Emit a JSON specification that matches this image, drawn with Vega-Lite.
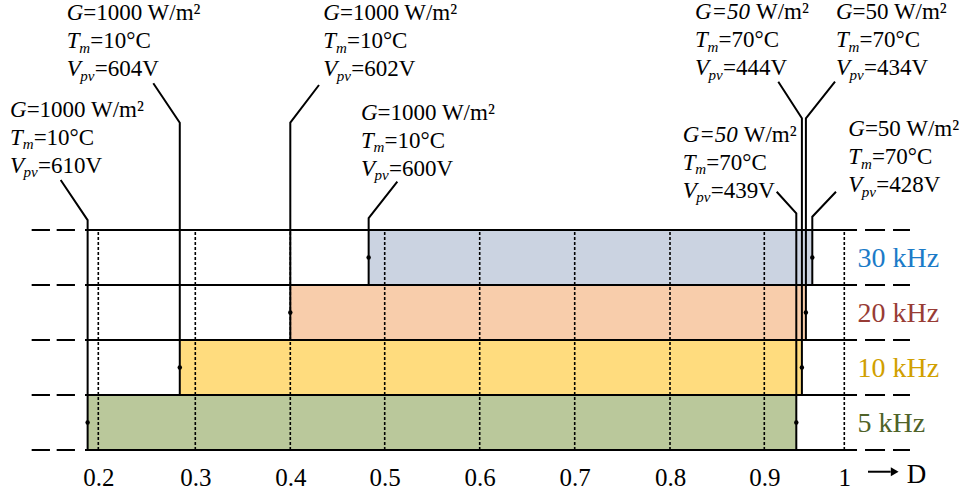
{
  "$schema": "https://vega.github.io/schema/vega-lite/v6.json",
  "width": 962,
  "height": 450,
  "autosize": {"type": "none"},
  "padding": {"left": 0, "top": 0, "right": 0, "bottom": 44},
  "background": "white",
  "config": {"view": {"stroke": null}, "font": "Liberation Serif"},
  "datasets": {
    "bands": [
      {"f": "5 kHz", "x0": 0.189, "x1": 0.940, "lo": 0, "hi": 1},
      {"f": "10 kHz", "x0": 0.284, "x1": 0.947, "lo": 1, "hi": 2},
      {"f": "20 kHz", "x0": 0.400, "x1": 0.952, "lo": 2, "hi": 3},
      {"f": "30 kHz", "x0": 0.483, "x1": 0.960, "lo": 3, "hi": 4}
    ],
    "grid": [{"D": 0.2}, {"D": 0.3}, {"D": 0.4}, {"D": 0.5}, {"D": 0.6}, {"D": 0.7}, {"D": 0.8}, {"D": 0.9}, {"D": 1.0}],
    "hlines": [{"lv": 0}, {"lv": 1}, {"lv": 2}, {"lv": 3}, {"lv": 4}],
    "leaders": [
      {"id": "L5", "o": 0, "D": 0.189, "lv": 0}, {"id": "L5", "o": 1, "D": 0.189, "lv": 4.18}, {"id": "L5", "o": 2, "D": 0.1612, "lv": 4.909},
      {"id": "L10", "o": 0, "D": 0.284, "lv": 1}, {"id": "L10", "o": 1, "D": 0.284, "lv": 5.951}, {"id": "L10", "o": 2, "D": 0.2567, "lv": 6.667},
      {"id": "L20", "o": 0, "D": 0.400, "lv": 2}, {"id": "L20", "o": 1, "D": 0.400, "lv": 5.951}, {"id": "L20", "o": 2, "D": 0.4304, "lv": 6.636},
      {"id": "L30", "o": 0, "D": 0.483, "lv": 3}, {"id": "L30", "o": 1, "D": 0.483, "lv": 4.218}, {"id": "L30", "o": 2, "D": 0.5133, "lv": 4.878},
      {"id": "R5", "o": 0, "D": 0.940, "lv": 0}, {"id": "R5", "o": 1, "D": 0.940, "lv": 4.303}, {"id": "R5", "o": 2, "D": 0.9155, "lv": 4.696},
      {"id": "R10", "o": 0, "D": 0.947, "lv": 1}, {"id": "R10", "o": 1, "D": 0.947, "lv": 6.031}, {"id": "R10", "o": 2, "D": 0.9175, "lv": 6.696},
      {"id": "R20", "o": 0, "D": 0.952, "lv": 2}, {"id": "R20", "o": 1, "D": 0.952, "lv": 6.031}, {"id": "R20", "o": 2, "D": 0.9884, "lv": 6.696},
      {"id": "R30", "o": 0, "D": 0.960, "lv": 3}, {"id": "R30", "o": 1, "D": 0.960, "lv": 4.242}, {"id": "R30", "o": 2, "D": 0.9896, "lv": 4.696}
    ],
    "dots": [
      {"D": 0.189, "lv": 0.5}, {"D": 0.940, "lv": 0.5},
      {"D": 0.284, "lv": 1.5}, {"D": 0.947, "lv": 1.5},
      {"D": 0.400, "lv": 2.5}, {"D": 0.952, "lv": 2.5},
      {"D": 0.483, "lv": 3.5}, {"D": 0.960, "lv": 3.5}
    ],
    "notes": [
      {"id": "A610", "D": 0.109, "lv": 6.055, "G": "1000", "gi": false, "Tm": "10", "Vpv": "610"},
      {"id": "A604", "D": 0.1674, "lv": 7.818, "G": "1000", "gi": false, "Tm": "10", "Vpv": "604"},
      {"id": "A602", "D": 0.435, "lv": 7.818, "G": "1000", "gi": false, "Tm": "10", "Vpv": "602"},
      {"id": "A600", "D": 0.4749, "lv": 6.0, "G": "1000", "gi": false, "Tm": "10", "Vpv": "600"},
      {"id": "A444", "D": 0.8265, "lv": 7.836, "G": "50", "gi": true, "Tm": "70", "Vpv": "444"},
      {"id": "A434", "D": 0.9896, "lv": 7.836, "G": "50", "gi": false, "Tm": "70", "Vpv": "434"},
      {"id": "A439", "D": 0.8135, "lv": 5.605, "G": "50", "gi": true, "Tm": "70", "Vpv": "439"},
      {"id": "A428", "D": 1.005, "lv": 5.709, "G": "50", "gi": false, "Tm": "70", "Vpv": "428"}
    ],
    "labels": [
      {"f": "5 kHz", "lv": 0.5}, {"f": "10 kHz", "lv": 1.5}, {"f": "20 kHz", "lv": 2.5}, {"f": "30 kHz", "lv": 3.5}
    ]
  },
  "layer": [
    {
      "data": {"name": "bands"},
      "mark": {"type": "rect"},
      "encoding": {
        "x": {"field": "x0", "type": "quantitative",
              "scale": {"type": "linear", "domain": [0.2, 0.3, 0.4, 0.5, 0.6, 0.7, 0.8, 0.9, 1.0], "range": [98.3, 195.3, 290.3, 384.7, 479.7, 574.7, 670, 764.3, 844.3], "nice": false, "zero": false},
              "axis": {"values": [0.2, 0.3, 0.4, 0.5, 0.6, 0.7, 0.8, 0.9, 1.0], "format": "~g", "labelFont": "Liberation Serif", "labelFontSize": 25, "labelColor": "#000", "ticks": false, "domain": false, "grid": false, "labelPadding": 15, "title": null, "labelFlush": false, "labelOverlap": false}},
        "x2": {"field": "x1"},
        "y": {"field": "lo", "type": "quantitative", "scale": {"domain": [0, 8.1818], "nice": false, "zero": false}, "axis": null},
        "y2": {"field": "hi"},
        "color": {"field": "f", "type": "nominal", "legend": null,
                  "scale": {"domain": ["5 kHz", "10 kHz", "20 kHz", "30 kHz"], "range": ["#bac89b", "#ffdc7e", "#f8cdab", "#cbd3e1"]}}
      }
    },
    {
      "data": {"name": "grid"},
      "mark": {"type": "rule", "color": "#000", "strokeWidth": 1.6, "strokeDash": [3, 2]},
      "encoding": {
        "x": {"field": "D", "type": "quantitative"},
        "y": {"datum": 0, "type": "quantitative"},
        "y2": {"datum": 4}
      }
    },
    {
      "data": {"name": "hlines"},
      "mark": {"type": "rule", "color": "#000", "strokeWidth": 2},
      "encoding": {
        "y": {"field": "lv", "type": "quantitative"},
        "x": {"datum": 0.1863, "type": "quantitative"},
        "x2": {"datum": 1.0159}
      }
    },
    {
      "data": {"name": "hlines"},
      "mark": {"type": "rule", "color": "#000", "strokeWidth": 2, "strokeDash": [18.3, 6.7]},
      "encoding": {
        "y": {"field": "lv", "type": "quantitative"},
        "x": {"datum": 0.1313, "type": "quantitative"},
        "x2": {"datum": 0.176}
      }
    },
    {
      "data": {"name": "hlines"},
      "mark": {"type": "rule", "color": "#000", "strokeWidth": 2, "strokeDash": [20, 8]},
      "encoding": {
        "y": {"field": "lv", "type": "quantitative"},
        "x": {"datum": 1.0259, "type": "quantitative"},
        "x2": {"datum": 1.0821}
      }
    },
    {
      "data": {"name": "leaders"},
      "mark": {"type": "line", "color": "#000", "strokeWidth": 2},
      "encoding": {
        "x": {"field": "D", "type": "quantitative"},
        "y": {"field": "lv", "type": "quantitative"},
        "detail": {"field": "id"},
        "order": {"field": "o"}
      }
    },
    {
      "data": {"name": "dots"},
      "mark": {"type": "point", "filled": true, "color": "#000", "size": 20, "opacity": 1},
      "encoding": {
        "x": {"field": "D", "type": "quantitative"},
        "y": {"field": "lv", "type": "quantitative"}
      }
    },
    {
      "data": {"name": "notes"},
      "mark": {"type": "text", "font": "Liberation Serif", "fontSize": 23, "fontStyle": "italic", "align": "left", "baseline": "alphabetic", "color": "#000"},
      "encoding": {
        "x": {"field": "D", "type": "quantitative"},
        "y": {"field": "lv", "type": "quantitative"},
        "text": {"value": "G"}
      }
    },
    {
      "data": {"name": "notes"},
      "transform": [{"filter": "!datum.gi"}, {"calculate": "'=' + datum.G + ' W/m²'", "as": "t"}],
      "mark": {"type": "text", "font": "Liberation Serif", "fontSize": 23, "align": "left", "baseline": "alphabetic", "color": "#000", "dx": 16.6},
      "encoding": {
        "x": {"field": "D", "type": "quantitative"},
        "y": {"field": "lv", "type": "quantitative"},
        "text": {"field": "t"}
      }
    },
    {
      "data": {"name": "notes"},
      "transform": [{"filter": "datum.gi"}, {"calculate": "'=' + datum.G", "as": "t"}],
      "mark": {"type": "text", "font": "Liberation Serif", "fontSize": 23, "fontStyle": "italic", "align": "left", "baseline": "alphabetic", "color": "#000", "dx": 16.6},
      "encoding": {
        "x": {"field": "D", "type": "quantitative"},
        "y": {"field": "lv", "type": "quantitative"},
        "text": {"field": "t"}
      }
    },
    {
      "data": {"name": "notes"},
      "transform": [{"filter": "datum.gi"}],
      "mark": {"type": "text", "font": "Liberation Serif", "fontSize": 23, "align": "left", "baseline": "alphabetic", "color": "#000", "dx": 61},
      "encoding": {
        "x": {"field": "D", "type": "quantitative"},
        "y": {"field": "lv", "type": "quantitative"},
        "text": {"value": "W/m²"}
      }
    },
    {
      "data": {"name": "notes"},
      "mark": {"type": "text", "font": "Liberation Serif", "fontSize": 23, "fontStyle": "italic", "align": "left", "baseline": "alphabetic", "color": "#000", "dy": 28},
      "encoding": {
        "x": {"field": "D", "type": "quantitative"},
        "y": {"field": "lv", "type": "quantitative"},
        "text": {"value": "T"}
      }
    },
    {
      "data": {"name": "notes"},
      "mark": {"type": "text", "font": "Liberation Serif", "fontSize": 15, "fontStyle": "italic", "align": "left", "baseline": "alphabetic", "color": "#000", "dx": 12.6, "dy": 32.5},
      "encoding": {
        "x": {"field": "D", "type": "quantitative"},
        "y": {"field": "lv", "type": "quantitative"},
        "text": {"value": "m"}
      }
    },
    {
      "data": {"name": "notes"},
      "transform": [{"calculate": "'=' + datum.Tm + '°C'", "as": "t"}],
      "mark": {"type": "text", "font": "Liberation Serif", "fontSize": 23, "align": "left", "baseline": "alphabetic", "color": "#000", "dx": 23.6, "dy": 28},
      "encoding": {
        "x": {"field": "D", "type": "quantitative"},
        "y": {"field": "lv", "type": "quantitative"},
        "text": {"field": "t"}
      }
    },
    {
      "data": {"name": "notes"},
      "mark": {"type": "text", "font": "Liberation Serif", "fontSize": 23, "fontStyle": "italic", "align": "left", "baseline": "alphabetic", "color": "#000", "dy": 56},
      "encoding": {
        "x": {"field": "D", "type": "quantitative"},
        "y": {"field": "lv", "type": "quantitative"},
        "text": {"value": "V"}
      }
    },
    {
      "data": {"name": "notes"},
      "mark": {"type": "text", "font": "Liberation Serif", "fontSize": 15, "fontStyle": "italic", "align": "left", "baseline": "alphabetic", "color": "#000", "dx": 13.5, "dy": 60.5},
      "encoding": {
        "x": {"field": "D", "type": "quantitative"},
        "y": {"field": "lv", "type": "quantitative"},
        "text": {"value": "pv"}
      }
    },
    {
      "data": {"name": "notes"},
      "transform": [{"calculate": "'=' + datum.Vpv + 'V'", "as": "t"}],
      "mark": {"type": "text", "font": "Liberation Serif", "fontSize": 23, "align": "left", "baseline": "alphabetic", "color": "#000", "dx": 28, "dy": 56},
      "encoding": {
        "x": {"field": "D", "type": "quantitative"},
        "y": {"field": "lv", "type": "quantitative"},
        "text": {"field": "t"}
      }
    },
    {
      "data": {"name": "labels"},
      "mark": {"type": "text", "font": "Liberation Serif", "fontSize": 28, "align": "left", "baseline": "alphabetic", "dy": 10},
      "encoding": {
        "x": {"datum": 1.0165, "type": "quantitative"},
        "y": {"field": "lv", "type": "quantitative"},
        "text": {"field": "f"},
        "color": {"field": "f", "type": "nominal", "legend": null,
                  "scale": {"domain": ["5 kHz", "10 kHz", "20 kHz", "30 kHz"], "range": ["#4f6228", "#d1a000", "#983c35", "#1b7bc8"]}}
      }
    },
    {
      "data": {"values": [{"a": 1.0296, "b": 1.058, "lv": -0.395}]},
      "mark": {"type": "rule", "color": "#000", "strokeWidth": 2},
      "encoding": {
        "x": {"field": "a", "type": "quantitative"},
        "x2": {"field": "b"},
        "y": {"field": "lv", "type": "quantitative"}
      }
    },
    {
      "data": {"values": [{"D": 1.063, "lv": -0.395}]},
      "mark": {"type": "point", "shape": "triangle-right", "filled": true, "color": "#000", "size": 80, "opacity": 1},
      "encoding": {
        "x": {"field": "D", "type": "quantitative"},
        "y": {"field": "lv", "type": "quantitative"}
      }
    },
    {
      "data": {"values": [{"D": 1.078, "lv": -0.6, "t": "D"}]},
      "mark": {"type": "text", "font": "Liberation Serif", "fontSize": 27, "align": "left", "baseline": "alphabetic", "color": "#000"},
      "encoding": {
        "x": {"field": "D", "type": "quantitative"},
        "y": {"field": "lv", "type": "quantitative"},
        "text": {"field": "t"}
      }
    }
  ],
  "resolve": {"scale": {"color": "independent"}}
}
